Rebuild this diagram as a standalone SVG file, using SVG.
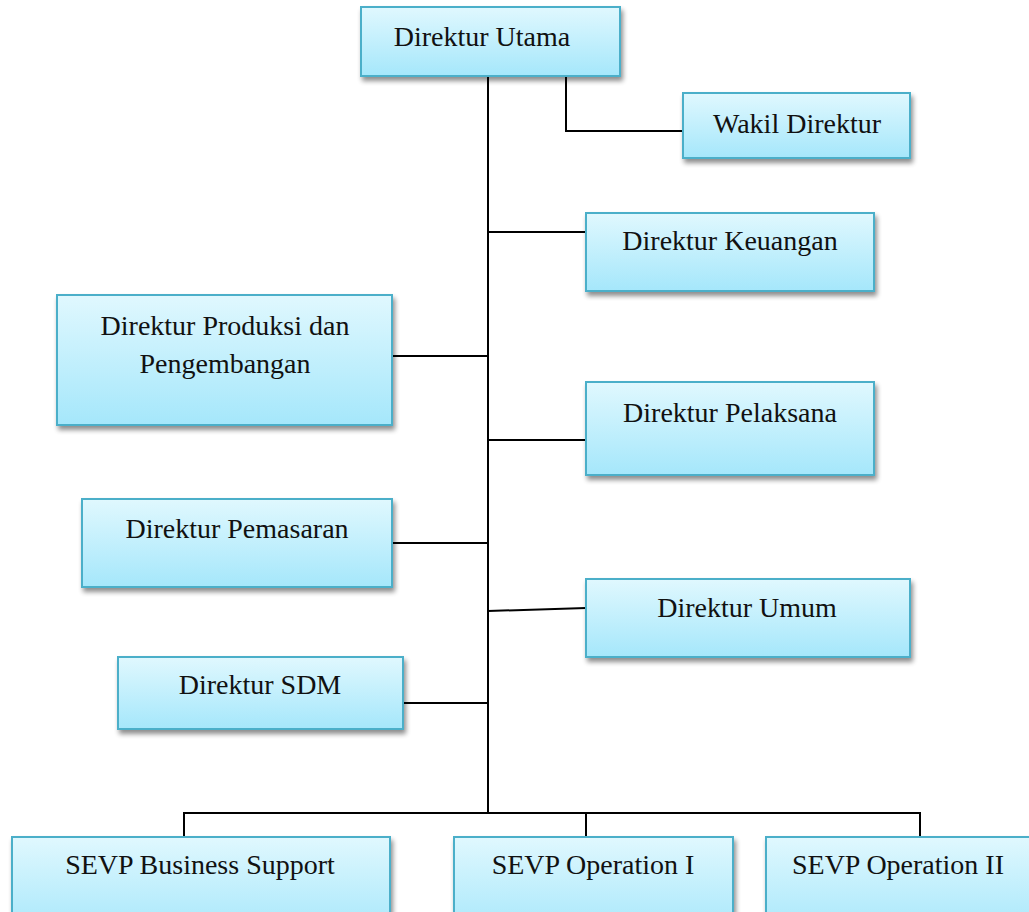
<svg xmlns="http://www.w3.org/2000/svg" width="1029" height="912" viewBox="0 0 1029 912">
<defs>
<linearGradient id="g" x1="0" y1="0" x2="0" y2="1">
<stop offset="0" stop-color="#e0f8fe"/>
<stop offset="1" stop-color="#a5e7fb"/>
</linearGradient>
<filter id="sh" x="-10%" y="-10%" width="125%" height="130%">
<feGaussianBlur in="SourceAlpha" stdDeviation="2.5"/>
<feOffset dx="2" dy="4" result="b"/>
<feComponentTransfer><feFuncA type="linear" slope="0.45"/></feComponentTransfer>
<feMerge><feMergeNode/><feMergeNode in="SourceGraphic"/></feMerge>
</filter>
</defs>
<style>
.box{fill:url(#g);stroke:#4bafc9;stroke-width:2;filter:url(#sh)}
.t{font-family:"Liberation Serif","Times New Roman",serif;font-size:28px;fill:#111;text-anchor:middle}
.c{stroke:#000;stroke-width:2;fill:none}
</style>
<rect width="1029" height="912" fill="#fff"/>
<g id="connectors">
<path class="c" d="M488 76V813"/>
<path class="c" d="M566 76V131H683"/>
<path class="c" d="M488 232H586"/>
<path class="c" d="M392 356H488"/>
<path class="c" d="M488 440H586"/>
<path class="c" d="M392 543H488"/>
<path class="c" d="M488 611L586 608"/>
<path class="c" d="M403 703H488"/>
<path class="c" d="M184 837V813H920V837"/>
<path class="c" d="M586 813V837"/>
</g>
<g id="direktur-utama"><rect class="box" x="361" y="7" width="259" height="69"/><text class="t" x="482" y="46">Direktur Utama</text></g>
<g id="wakil-direktur"><rect class="box" x="683" y="93" width="227" height="65"/><text class="t" x="797" y="133">Wakil Direktur</text></g>
<g id="direktur-keuangan"><rect class="box" x="586" y="213" width="288" height="78"/><text class="t" x="730" y="250">Direktur Keuangan</text></g>
<g id="direktur-produksi"><rect class="box" x="57" y="295" width="335" height="130"/><text class="t" x="225" y="335">Direktur Produksi dan</text><text class="t" x="225" y="373">Pengembangan</text></g>
<g id="direktur-pelaksana"><rect class="box" x="586" y="382" width="288" height="93"/><text class="t" x="730" y="422">Direktur Pelaksana</text></g>
<g id="direktur-pemasaran"><rect class="box" x="82" y="499" width="310" height="88"/><text class="t" x="237" y="538">Direktur Pemasaran</text></g>
<g id="direktur-umum"><rect class="box" x="586" y="579" width="324" height="78"/><text class="t" x="747" y="617">Direktur Umum</text></g>
<g id="direktur-sdm"><rect class="box" x="118" y="657" width="285" height="72"/><text class="t" x="260" y="694">Direktur SDM</text></g>
<g id="sevp-business-support"><rect class="box" x="12" y="837" width="378" height="100"/><text class="t" x="200" y="874">SEVP Business Support</text></g>
<g id="sevp-operation-1"><rect class="box" x="454" y="837" width="279" height="100"/><text class="t" x="593" y="874">SEVP Operation I</text></g>
<g id="sevp-operation-2"><rect class="box" x="766" y="837" width="270" height="100"/><text class="t" x="898" y="874">SEVP Operation II</text></g>
</svg>
